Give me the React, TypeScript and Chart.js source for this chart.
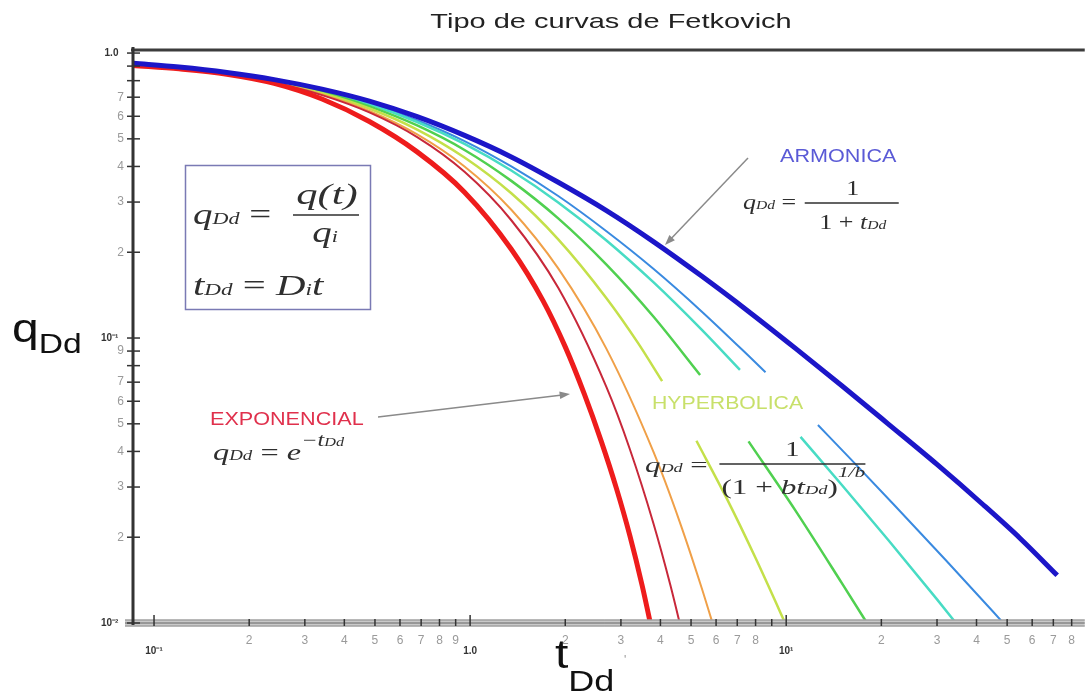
import React, { useEffect, useRef } from "react";
import { Chart, registerables } from "chart.js";

Chart.register(...registerables);

const TITLE = "Tipo de curvas de Fetkovich";
const SANS = "'Liberation Sans', Arial, sans-serif";
const SERIF = "'Liberation Serif', 'DejaVu Serif', serif";

// axis ticks
const X_TICKS = [0.1, 0.2, 0.3, 0.4, 0.5, 0.6, 0.7, 0.8, 0.9, 1, 2, 3, 4, 5, 6, 7, 8, 9, 10, 20, 30, 40, 50, 60, 70, 80];
const X_LABELS = ["10⁻¹", "2", "3", "4", "5", "6", "7", "8", "9", "1.0", "2", "3", "4", "5", "6", "7", "8", "", "10¹", "2", "3", "4", "5", "6", "7", "8"];
const Y_TICKS = [1, 0.9, 0.8, 0.7, 0.6, 0.5, 0.4, 0.3, 0.2, 0.1, 0.09, 0.08, 0.07, 0.06, 0.05, 0.04, 0.03, 0.02, 0.01];
const Y_LABELS = ["1.0", "", "", "7", "6", "5", "4", "3", "2", "10⁻¹", "9", "", "7", "6", "5", "4", "3", "2", "10⁻²"];
const MAJOR_LABELS = ["10⁻¹", "1.0", "10¹", "10⁻²"];

const X_MIN = 0.0858;
const X_MAX = 88;
const Y_MIN = 0.01;
const Y_MAX = 1.025;

// harmonic (b = 1)
const harmT = [0.086, 0.12, 0.17, 0.24, 0.34, 0.48, 0.68, 0.96, 1.35, 1.9, 2.7, 3.8, 5.4, 7.6, 10.7, 15, 21, 30, 42, 55, 72];
const harmQ = [0.921, 0.893, 0.855, 0.807, 0.747, 0.678, 0.598, 0.514, 0.432, 0.352, 0.28, 0.218, 0.165, 0.124, 0.092, 0.068, 0.05, 0.036, 0.026, 0.0198, 0.0147];

// exponential (thick red)
const expT = [0.086, 0.12, 0.17, 0.24, 0.34, 0.48, 0.68, 0.96, 1.35, 1.7, 2.0, 2.3, 2.6, 2.9, 3.2, 3.5, 3.8];
const expQ = [0.905, 0.88, 0.843, 0.783, 0.69, 0.575, 0.45, 0.325, 0.205, 0.1353, 0.0931, 0.0634, 0.0434, 0.0298, 0.0203, 0.01356, 0.0089];

// hyperbolic family
const b0T = [0.086, 0.12, 0.17, 0.24, 0.34, 0.48, 0.68, 0.96, 1.35, 1.9, 2.7, 3.2, 3.8, 4.3, 4.7];
const b0Q = [0.918, 0.887, 0.844, 0.787, 0.712, 0.619, 0.507, 0.383, 0.259, 0.15, 0.0672, 0.0408, 0.0224, 0.0136, 0.0091];

const b01T = [0.086, 0.12, 0.17, 0.24, 0.34, 0.48, 0.68, 0.96, 1.35, 1.9, 2.7, 3.8, 4.6, 5.4, 6.0];
const b01Q = [0.918, 0.888, 0.845, 0.789, 0.716, 0.626, 0.518, 0.4, 0.282, 0.1755, 0.0916, 0.0399, 0.0227, 0.0133, 0.0091];

const b03T = [0.086, 0.12, 0.17, 0.24, 0.34, 0.48, 0.68, 0.96, 1.35, 1.9, 2.7, 3.4, 4.05, 4.6, 5.2, 6.5, 8.0, 10.5];
const b03Q = [0.919, 0.889, 0.847, 0.793, 0.723, 0.639, 0.539, 0.43, 0.322, 0.222, 0.138, 0.096, 0.0706, null, 0.0436, 0.0272, 0.0169, 0.0087];

const b05T = [0.086, 0.12, 0.17, 0.24, 0.34, 0.48, 0.68, 0.96, 1.35, 1.9, 2.7, 3.8, 5.34, 6.4, 7.6, 10.7, 15, 19];
const b05Q = [0.919, 0.89, 0.849, 0.797, 0.73, 0.65, 0.557, 0.457, 0.356, 0.263, 0.181, 0.119, 0.0742, null, 0.0434, 0.0248, 0.0138, 0.0091];

const b07T = [0.086, 0.12, 0.17, 0.24, 0.34, 0.48, 0.68, 0.96, 1.35, 1.9, 2.7, 3.8, 5.4, 7.14, 9, 11.1, 15, 21, 30, 36];
const b07Q = [0.92, 0.891, 0.852, 0.801, 0.737, 0.661, 0.573, 0.48, 0.387, 0.299, 0.22, 0.157, 0.107, 0.0773, null, 0.045, 0.0305, 0.0196, 0.0121, 0.0094];

const b08T = [0.086, 0.12, 0.17, 0.24, 0.34, 0.48, 0.68, 0.96, 1.35, 1.9, 2.7, 3.8, 5.4, 7.6, 8.6, 10.5, 12.6, 16, 22, 32, 45, 52];
const b08Q = [0.92, 0.892, 0.853, 0.803, 0.74, 0.666, 0.581, 0.491, 0.4, 0.315, 0.237, 0.175, 0.124, 0.0866, 0.0758, null, 0.0495, 0.0376, 0.0259, 0.0166, 0.011, 0.0092];

const pts = (t: number[], q: (number | null)[]) => t.map((v, i) => ({ x: v, y: q[i] }));

type Part = { t: string; f: string; dy?: number };

function drawRun(ctx: CanvasRenderingContext2D, x: number, y: number, parts: Part[], sx: number, color: string) {
  let cx = x;
  ctx.fillStyle = color;
  ctx.textBaseline = "alphabetic";
  ctx.textAlign = "left";
  for (const p of parts) {
    ctx.font = p.f;
    ctx.save();
    ctx.translate(cx, y + (p.dy || 0));
    ctx.scale(sx, 1);
    ctx.fillText(p.t, 0, 0);
    ctx.restore();
    cx += ctx.measureText(p.t).width * sx;
  }
  return cx;
}

function runWidth(ctx: CanvasRenderingContext2D, parts: Part[], sx: number) {
  let w = 0;
  for (const p of parts) {
    ctx.font = p.f;
    w += ctx.measureText(p.t).width * sx;
  }
  return w;
}

function drawCentered(ctx: CanvasRenderingContext2D, cx: number, y: number, parts: Part[], sx: number, color: string) {
  const w = runWidth(ctx, parts, sx);
  drawRun(ctx, cx - w / 2, y, parts, sx, color);
}

function arrow(ctx: CanvasRenderingContext2D, x1: number, y1: number, x2: number, y2: number, color: string) {
  ctx.save();
  ctx.strokeStyle = color;
  ctx.fillStyle = color;
  ctx.lineWidth = 1.5;
  const a = Math.atan2(y2 - y1, x2 - x1);
  const hl = 11;
  ctx.beginPath();
  ctx.moveTo(x1, y1);
  ctx.lineTo(x2 - Math.cos(a) * hl * 0.7, y2 - Math.sin(a) * hl * 0.7);
  ctx.stroke();
  ctx.beginPath();
  ctx.moveTo(x2, y2);
  ctx.lineTo(x2 - hl * Math.cos(a - 0.35), y2 - hl * Math.sin(a - 0.35));
  ctx.lineTo(x2 - hl * Math.cos(a + 0.35), y2 - hl * Math.sin(a + 0.35));
  ctx.closePath();
  ctx.fill();
  ctx.restore();
}

function line(ctx: CanvasRenderingContext2D, x1: number, y1: number, x2: number, y2: number) {
  ctx.beginPath();
  ctx.moveTo(x1, y1);
  ctx.lineTo(x2, y2);
  ctx.stroke();
}

const decor = {
  id: "decor",
  afterDatasetsDraw(chart: any) {
    const { ctx, chartArea, scales } = chart;
    const { left, right, top, bottom } = chartArea;
    const xs = scales.x;
    const ys = scales.y;
    ctx.save();
    ctx.strokeStyle = "#3c3c3c";
    ctx.lineWidth = 3;
    line(ctx, left - 2, top, right, top);
    ctx.fillStyle = "#c9c9c9";
    ctx.fillRect(left - 8, bottom - 3.5, right - left + 8, 7);
    ctx.strokeStyle = "#8c8c8c";
    ctx.lineWidth = 1;
    line(ctx, left - 8, bottom - 3, right, bottom - 3);
    line(ctx, left - 8, bottom + 3, right, bottom + 3);
    ctx.strokeStyle = "#666";
    line(ctx, left - 8, bottom, right, bottom);
    ctx.strokeStyle = "#333";
    ctx.lineWidth = 1.5;
    X_TICKS.forEach((v, i) => {
      const px = xs.getPixelForValue(v);
      const major = MAJOR_LABELS.includes(X_LABELS[i]);
      line(ctx, px, bottom - (major ? 8 : 4), px, bottom + 3);
    });
    ctx.strokeStyle = "#333";
    ctx.lineWidth = 3;
    line(ctx, left, top - 3, left, bottom + 2);
    ctx.lineWidth = 1.5;
    Y_TICKS.forEach((v) => {
      const py = ys.getPixelForValue(v);
      line(ctx, left - 6, py, left + 7, py);
    });
    ctx.restore();
  },
  afterDraw(chart: any) {
    const ctx: CanvasRenderingContext2D = chart.ctx;
    ctx.save();
    const ink = "#2f2f2f";
    drawCentered(ctx, 611, 28, [{ t: TITLE, f: `21px ${SANS}` }], 1.38, "#222");
    drawRun(ctx, 12, 342, [{ t: "q", f: `40px ${SANS}` }, { t: "Dd", f: `28px ${SANS}`, dy: 11 }], 1.2, "#111");
    drawRun(ctx, 555, 668, [{ t: "t", f: `40px ${SANS}` }, { t: "Dd", f: `30px ${SANS}`, dy: 23 }], 1.2, "#111");
    drawRun(ctx, 624, 664, [{ t: "'", f: `12px ${SANS}` }], 1, "#999");

    // definition box
    ctx.strokeStyle = "#7a7ab4";
    ctx.lineWidth = 1.5;
    ctx.strokeRect(185.5, 165.5, 185, 144);
    const sx = 1.3;
    const i30 = `italic 30px ${SERIF}`;
    const i17 = `italic 17px ${SERIF}`;
    const n30 = `30px ${SERIF}`;
    let ex = drawRun(ctx, 193, 224, [{ t: "q", f: i30 }, { t: "Dd", f: i17 }, { t: " = ", f: n30 }], sx, ink);
    ctx.strokeStyle = ink;
    ctx.lineWidth = 1.5;
    line(ctx, ex + 12, 215, ex + 78, 215);
    drawCentered(ctx, ex + 46, 204, [{ t: "q(t)", f: i30 }], 1.42, ink);
    drawCentered(ctx, ex + 44, 242, [{ t: "q", f: i30 }, { t: "i", f: i17 }], sx, ink);
    drawRun(ctx, 193, 295, [{ t: "t", f: i30 }, { t: "Dd", f: i17 }, { t: " = ", f: n30 }, { t: "D", f: i30 }, { t: "i", f: i17 }, { t: "t", f: i30 }], 1.36, ink);

    // ARMONICA
    drawRun(ctx, 780, 162, [{ t: "ARMONICA", f: `18px ${SANS}` }], 1.2, "#5a5ad6");
    const i20 = `italic 20px ${SERIF}`;
    const i12 = `italic 12px ${SERIF}`;
    const n20 = `20px ${SERIF}`;
    ex = drawRun(ctx, 743, 209, [{ t: "q", f: i20 }, { t: "Dd", f: i12 }, { t: " = ", f: n20 }], sx, ink);
    ctx.lineWidth = 1.3;
    line(ctx, ex + 2, 203, ex + 96, 203);
    drawCentered(ctx, ex + 50, 195, [{ t: "1", f: n20 }], sx, ink);
    drawCentered(ctx, ex + 50, 229, [{ t: "1 + ", f: n20 }, { t: "t", f: i20 }, { t: "Dd", f: i12 }], sx, ink);
    arrow(ctx, 748, 158, 665, 245, "#8a8a8a");

    // EXPONENCIAL
    drawRun(ctx, 210, 425, [{ t: "EXPONENCIAL", f: `18px ${SANS}` }], 1.2, "#e0304c");
    const i24 = `italic 24px ${SERIF}`;
    const i14 = `italic 14px ${SERIF}`;
    const n24 = `24px ${SERIF}`;
    drawRun(ctx, 213, 460, [
      { t: "q", f: i24 }, { t: "Dd", f: i14 }, { t: " = ", f: n24 }, { t: "e", f: i24 },
      { t: "−t", f: `italic 18px ${SERIF}`, dy: -14 }, { t: "Dd", f: `italic 12px ${SERIF}`, dy: -14 },
    ], 1.35, ink);
    arrow(ctx, 378, 417, 570, 394, "#8a8a8a");

    // HYPERBOLICA
    drawRun(ctx, 652, 409, [{ t: "HYPERBOLICA", f: `18px ${SANS}` }], 1.18, "#c8e06a");
    const i22 = `italic 22px ${SERIF}`;
    const i13 = `italic 13px ${SERIF}`;
    const n22 = `22px ${SERIF}`;
    ex = drawRun(ctx, 645, 472, [{ t: "q", f: i22 }, { t: "Dd", f: i13 }, { t: " = ", f: n22 }], 1.4, ink);
    ctx.lineWidth = 1.3;
    line(ctx, ex + 4, 464, ex + 150, 464);
    drawCentered(ctx, ex + 77, 456, [{ t: "1", f: n22 }], sx, ink);
    drawRun(ctx, ex + 6, 494, [
      { t: "(1 + ", f: n22 }, { t: "b", f: i22 }, { t: "t", f: i22 }, { t: "Dd", f: i13 }, { t: ")", f: n22 },
      { t: "1/b", f: `italic 15px ${SERIF}`, dy: -17 },
    ], 1.42, ink);
    ctx.restore();
  },
};

export default function App() {
  const ref = useRef<HTMLCanvasElement | null>(null);
  useEffect(() => {
    document.body.style.margin = "0";
    Chart.defaults.font.family = SANS;
    const canvas = ref.current;
    if (!canvas) return;
    const mk = (label: string, t: number[], q: (number | null)[], color: string, width: number) => ({
      label,
      data: pts(t, q),
      borderColor: color,
      backgroundColor: color,
      borderWidth: width,
      pointRadius: 0,
      fill: false,
      spanGaps: false,
      cubicInterpolationMode: "monotone" as const,
      borderCapStyle: "butt" as const,
    });
    const datasets = [
      mk("Armónica b=1", harmT, harmQ, "#1c16c8", 5),
      mk("Exponencial", expT, expQ, "#ee1c1c", 5),
      mk("b=0", b0T, b0Q, "#c8283a", 2),
      mk("b=0.1", b01T, b01Q, "#f0a048", 2),
      mk("b=0.3", b03T, b03Q, "#c4e04a", 2.5),
      mk("b=0.5", b05T, b05Q, "#50d050", 2.5),
      mk("b=0.7", b07T, b07Q, "#48dcc4", 2.5),
      mk("b=0.8", b08T, b08Q, "#3a8ae0", 2),
    ];
    const xLabelOf = (v: number) => {
      const i = X_TICKS.findIndex((t) => Math.abs(t - v) / t < 1e-6);
      return i >= 0 ? X_LABELS[i] : "";
    };
    const yLabelOf = (v: number) => {
      const i = Y_TICKS.findIndex((t) => Math.abs(t - v) / t < 1e-6);
      return i >= 0 ? Y_LABELS[i] : "";
    };
    const chart = new Chart(canvas, {
      type: "line",
      data: { datasets },
      plugins: [decor],
      options: {
        animation: false,
        responsive: true,
        maintainAspectRatio: false,
        devicePixelRatio: 1,
        events: [],
        layout: { padding: { top: 50, right: 0, bottom: 0, left: 0 } },
        plugins: { legend: { display: false }, title: { display: false }, tooltip: { enabled: false } },
        scales: {
          x: {
            type: "logarithmic",
            min: X_MIN,
            max: X_MAX,
            grid: { display: false, drawTicks: false },
            border: { display: false },
            afterFit: (s: any) => { s.height = 77; },
            afterBuildTicks: (s: any) => { s.ticks = X_TICKS.map((v) => ({ value: v })); },
            ticks: {
              autoSkip: false,
              maxRotation: 0,
              padding: 10,
              callback: (v: any) => {
                const l = xLabelOf(Number(v));
                return MAJOR_LABELS.includes(l) ? ["", l] : l;
              },
              font: (c: any) => {
                const l = xLabelOf(c.tick ? c.tick.value : 0);
                return MAJOR_LABELS.includes(l) ? { size: 10, weight: "bold", family: SANS, lineHeight: 1.2 } : { size: 12, family: SANS, lineHeight: 1.2 };
              },
              color: (c: any) => (MAJOR_LABELS.includes(xLabelOf(c.tick ? c.tick.value : 0)) ? "#333" : "#9a9a9a"),
            },
          },
          y: {
            type: "logarithmic",
            min: Y_MIN,
            max: Y_MAX,
            grid: { display: false, drawTicks: false },
            border: { display: false },
            afterFit: (s: any) => { s.width = 133; },
            afterBuildTicks: (s: any) => { s.ticks = [...Y_TICKS].reverse().map((v) => ({ value: v })); },
            ticks: {
              autoSkip: false,
              padding: 9,
              callback: (v: any) => {
                const l = yLabelOf(Number(v));
                return MAJOR_LABELS.includes(l) ? l + "  " : l;
              },
              font: (c: any) => {
                const l = yLabelOf(c.tick ? c.tick.value : 0);
                return MAJOR_LABELS.includes(l) ? { size: 10, weight: "bold", family: SANS } : { size: 12, family: SANS };
              },
              color: (c: any) => (MAJOR_LABELS.includes(yLabelOf(c.tick ? c.tick.value : 0)) ? "#333" : "#9a9a9a"),
            },
          },
        },
      },
    });
    return () => chart.destroy();
  }, []);
  return (
    <div style={{ width: 1085, height: 700, position: "relative", background: "#fff" }}>
      <canvas ref={ref} />
    </div>
  );
}
